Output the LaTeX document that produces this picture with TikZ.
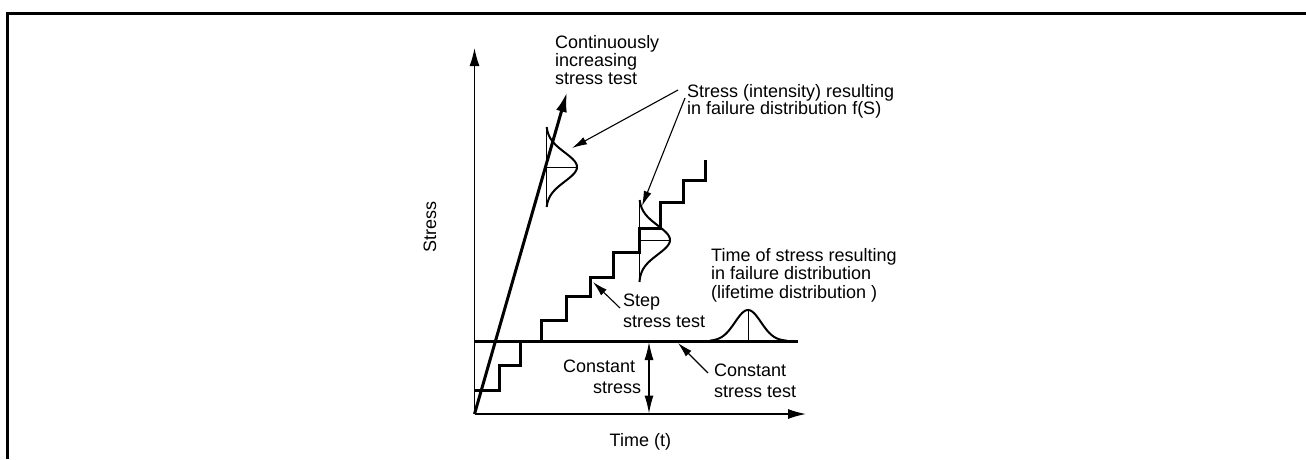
\documentclass[tikz,border=0pt]{standalone}
\usepackage{fontspec}
\setmainfont{Liberation Sans}
\usetikzlibrary{arrows.meta}
\begin{document}
\begin{tikzpicture}[x=1pt,y=-1pt,
  font=\fontsize{18}{18}\selectfont,
  lbl/.style={inner sep=0pt, anchor=base west},
  heavy/.style={line width=3pt, line join=miter},
  axis/.style={line width=1.4pt, -{Latex[length=18pt,width=10pt]}},
  callout/.style={line width=1.1pt, -{Latex[length=15pt,width=8pt]}},
  dist/.style={line width=2pt},
  guide/.style={line width=0.9pt}]
\useasboundingbox (0,0) rectangle (1306,459);
% frame
\draw[line width=2.7pt] (7.3,459) -- (7.3,13.3) -- (1306,13.3);

% axes
\coordinate (O) at (474.5,414);
\coordinate (ytip) at (474.5,48);
\coordinate (xtip) at (806,414);
\draw[axis] (O) -- (ytip);
\draw[axis] (O) -- (xtip);

% constant stress test line
\coordinate (c0) at (474.5,341);
\coordinate (c1) at (798,341);
\draw[heavy] (c0) -- (c1);

% small steps near origin
\draw[heavy] (474.5,390) -- (499,390) -- (499,365) -- (520,365) -- (520,341);

% step stress test staircase
\draw[heavy] (541,342) -- (541,320) -- (566,320) -- (566,296) -- (590,296)
  -- (590,277) -- (613,277) -- (613,252) -- (639,252) -- (639,228)
  -- (660,228) -- (660,202) -- (683,202) -- (683,180) -- (705,180) -- (705,160);

% continuously increasing stress test
\coordinate (ctip) at (567,92);
\draw[line width=3pt, -{Latex[length=20pt,width=11pt]}] (O) -- (ctip);

% distribution on continuous line
\draw[guide] (546,127) -- (546,207);
\draw[guide] (546,167) -- (577,167);
\draw[dist] plot[domain=-40:40, samples=70, smooth] ({546+31*exp(-((\x/14.5)^2)/2)}, {167+\x});

% distribution on staircase
\draw[guide] (639,200) -- (639,282);
\draw[guide] (639,240) -- (670,240);
\draw[dist] plot[domain=-40:42, samples=70, smooth] ({639+31*exp(-((\x/14.5)^2)/2)}, {240+\x});

% lifetime distribution
\draw[guide] (748,310) -- (748,341);
\draw[dist] plot[domain=-38:39, samples=70, smooth] ({748+\x}, {341-31*exp(-((\x/13)^2)/2)});

% constant stress double arrow
\coordinate (cs0) at (649,342);
\coordinate (cs1) at (649,413.5);
\draw[line width=1.2pt, {Latex[length=18pt,width=9pt]}-{Latex[length=18pt,width=9pt]}] (cs0) -- (cs1);

% labels
\node[lbl] (cont1) at (555,48) {Continuously};
\node[lbl] (cont2) at (555,66) {increasing};
\node[lbl] (cont3) at (555,84) {stress test};

\node[lbl] (si1) at (687,97) {Stress (intensity) resulting};
\node[lbl] (si2) at (687,114) {in failure distribution f(S)};

\node[lbl] (ts1) at (711,261) {Time of stress resulting};
\node[lbl] (ts2) at (711,279) {in failure distribution};
\node[lbl] (ts3) at (711,298) {(lifetime distribution )};

\node[lbl] (st1) at (623,306) {Step};
\node[lbl] (st2) at (623,327) {stress test};

\node[lbl] (cl1) at (563,372) {Constant};
\node[lbl] (cl2) at (593,393) {stress};

\node[lbl] (cr1) at (714,376) {Constant};
\node[lbl] (cr2) at (714,397) {stress test};

\node[lbl] (tt) at (609.5,446) {Time (t)};
\node[inner sep=0pt, rotate=90] (ss) at (430,227) {Stress};

% callouts
\coordinate (a1s) at (678,90);
\coordinate (a1t) at (572,148);
\coordinate (a2s) at (685,98);
\coordinate (a2t) at (642,206);
\coordinate (a3s) at (620,308);
\coordinate (a3t) at (593,282);
\coordinate (a4s) at (708,373);
\coordinate (a4t) at (678,343);
\draw[callout] (a1s) -- (a1t);
\draw[callout] (a2s) -- (a2t);
\draw[callout] (a3s) -- (a3t);
\draw[callout] (a4s) -- (a4t);
\end{tikzpicture}
\end{document}
